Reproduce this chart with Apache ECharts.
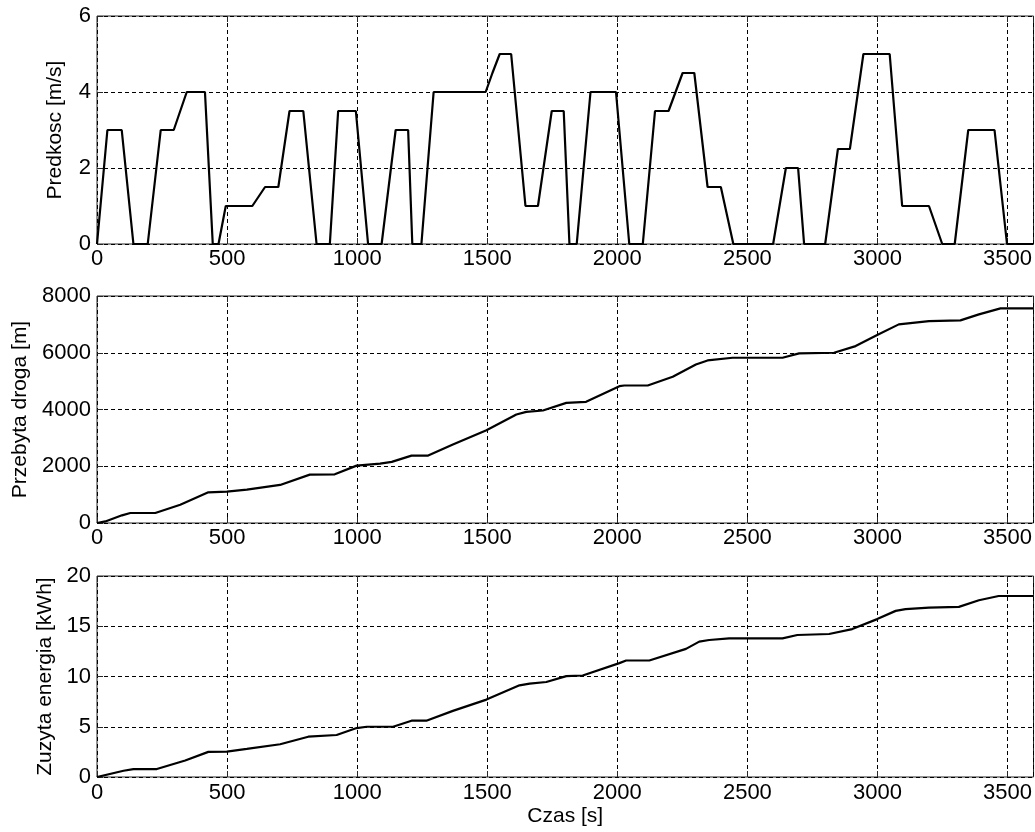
<!DOCTYPE html>
<html>
<head>
<meta charset="utf-8">
<title>Predkosc, droga, energia</title>
<script src="https://cdn.jsdelivr.net/npm/echarts@6/dist/echarts.min.js"></script>
<style>
  html, body { margin: 0; padding: 0; background: #fff; overflow: hidden; }
  #chart { width: 1035px; height: 832px; }
</style>
</head>
<body>
<div id="chart"></div>
<script>
// predkosc pojazdu [m/s] w funkcji czasu [s]
const speedTime = [0, 40, 95, 140, 195, 245, 295, 345, 415, 445, 467, 495, 597, 646, 697, 740, 793, 844, 895, 927,
  995, 1042, 1094, 1148, 1196, 1212, 1247, 1294, 1494, 1520, 1548, 1592, 1647, 1695, 1748, 1794, 1816, 1844, 1897, 1995,
  2046, 2098, 2145, 2197, 2251, 2296, 2347, 2398, 2446, 2599, 2648, 2695, 2718, 2799, 2848, 2894, 2946, 3047, 3095, 3198,
  3249, 3297, 3349, 3450, 3498, 3600];
const speedValues = [0, 3, 3, 0, 0, 3, 3, 4, 4, 0, 0, 1, 1, 1.5, 1.5, 3.5, 3.5, 0, 0, 3.5,
  3.5, 0, 0, 3, 3, 0, 0, 4, 4, 4.5, 5, 5, 1, 1, 3.5, 3.5, 0, 0, 4, 4,
  0, 0, 3.5, 3.5, 4.5, 4.5, 1.5, 1.5, 0, 0, 2, 2, 0, 0, 2.5, 2.5, 5, 5, 1, 1,
  0, 0, 3, 3, 0, 0];

// przebyta droga [m]
const distTime = [0, 32, 96, 128, 224, 320, 428, 499, 576, 704, 818, 914, 998, 1088, 1133, 1209, 1273, 1368, 1497, 1612,
  1650, 1714, 1804, 1880, 2008, 2027, 2117, 2213, 2302, 2347, 2443, 2635, 2699, 2833, 2916, 2999, 3082, 3198, 3319, 3390,
  3473, 3600];
const distValues = [0, 56, 270, 353, 353, 646, 1081, 1105, 1175, 1341, 1705, 1717, 2022, 2093, 2153, 2376, 2376, 2763, 3270, 3822,
  3917, 3964, 4235, 4271, 4823, 4846, 4846, 5153, 5587, 5729, 5823, 5823, 5976, 6000, 6235, 6623, 7000, 7117, 7141, 7353,
  7565, 7565];

// zuzyta energia [kWh]
const energyTime = [0, 102, 140, 230, 339, 428, 499, 576, 704, 812, 921, 998, 1037, 1138, 1209, 1266, 1368, 1497, 1624, 1663,
  1727, 1804, 1867, 2008, 2034, 2123, 2264, 2315, 2353, 2430, 2635, 2692, 2814, 2903, 2999, 3070, 3108, 3198, 3313, 3390,
  3466, 3600];
const energyValues = [0, 0.62, 0.79, 0.79, 1.64, 2.5, 2.53, 2.8, 3.26, 4.01, 4.18, 4.87, 5.0, 5.0, 5.6, 5.6, 6.58, 7.7, 9.12, 9.29,
  9.45, 10.04, 10.1, 11.33, 11.59, 11.59, 12.75, 13.47, 13.63, 13.8, 13.8, 14.13, 14.23, 14.72, 15.71, 16.53, 16.7, 16.86, 16.93, 17.59,
  18.01, 18.01];

const yNames = ['Predkosc [m/s]', 'Przebyta droga [m]', 'Zuzyta energia [kWh]'];
const yMax = [6, 8000, 20];
const yStep = [2, 2000, 5];

const FONT = "'Liberation Sans', Arial, sans-serif";
const zip = (xs, ys) => xs.map((x, i) => [x, ys[i]]);
const plain = v => String(v); // bez separatora tysiecy, jak w MATLABie

function buildOption() {
  // prawa krawedz wykresu jest obcieta w oryginale
  const grids = [
    { left: 97, right: -1, top: 16, height: 228 },
    { left: 97, right: -1, top: 296, height: 227 },
    { left: 97, right: -1, top: 576, height: 201 }
  ].map(g => ({ ...g, show: true, borderColor: '#262626', borderWidth: 1, backgroundColor: '#fff' }));

  const dashed = { show: true, lineStyle: { color: '#000', width: 1, type: [4, 3] } };
  const labelStyle = { color: '#000', fontFamily: FONT, fontSize: 22 };
  const nameStyle = { color: '#000', fontFamily: FONT, fontSize: 21 };
  const nameGaps = [31, 64, 39];
  const labelMargins = [4, 4, 5];
  const tick = { show: true, inside: true, length: 6, lineStyle: { color: '#262626' } };

  const xAxis = [];
  const yAxis = [];
  for (let i = 0; i < 3; i++) {
    xAxis.push({
      type: 'value', gridIndex: i, min: 0, max: 3600, interval: 500,
      axisLine: { show: false },
      axisTick: tick,
      axisLabel: { ...labelStyle, margin: labelMargins[i], showMaxLabel: false, formatter: plain },
      splitLine: dashed,
      name: i === 2 ? 'Czas [s]' : '',
      nameLocation: 'middle',
      nameGap: 29,
      nameTextStyle: nameStyle
    });
    // gorna os tylko dla znacznikow
    xAxis.push({
      type: 'value', gridIndex: i, position: 'top', min: 0, max: 3600, interval: 500,
      axisLine: { show: false },
      axisTick: tick,
      axisLabel: { show: false },
      splitLine: { show: false }
    });
    yAxis.push({
      type: 'value', gridIndex: i, min: 0, max: yMax[i], interval: yStep[i],
      axisLine: { show: false },
      axisTick: tick,
      axisLabel: { ...labelStyle, margin: 6, formatter: plain },
      splitLine: dashed,
      name: yNames[i],
      nameLocation: 'middle',
      nameRotate: 90,
      nameGap: nameGaps[i],
      nameTextStyle: nameStyle
    });
  }

  const lineSeries = (idx, data) => ({
    type: 'line',
    xAxisIndex: idx * 2,
    yAxisIndex: idx,
    data: data,
    showSymbol: false,
    smooth: false,
    animation: false,
    lineStyle: { color: '#000', width: 2.2 }
  });

  return {
    backgroundColor: '#fff',
    animation: false,
    grid: grids,
    xAxis: xAxis,
    yAxis: yAxis,
    series: [
      lineSeries(0, zip(speedTime, speedValues)),
      lineSeries(1, zip(distTime, distValues)),
      lineSeries(2, zip(energyTime, energyValues))
    ]
  };
}

const chart = echarts.init(document.getElementById('chart'));
chart.setOption(buildOption());
</script>
</body>
</html>
